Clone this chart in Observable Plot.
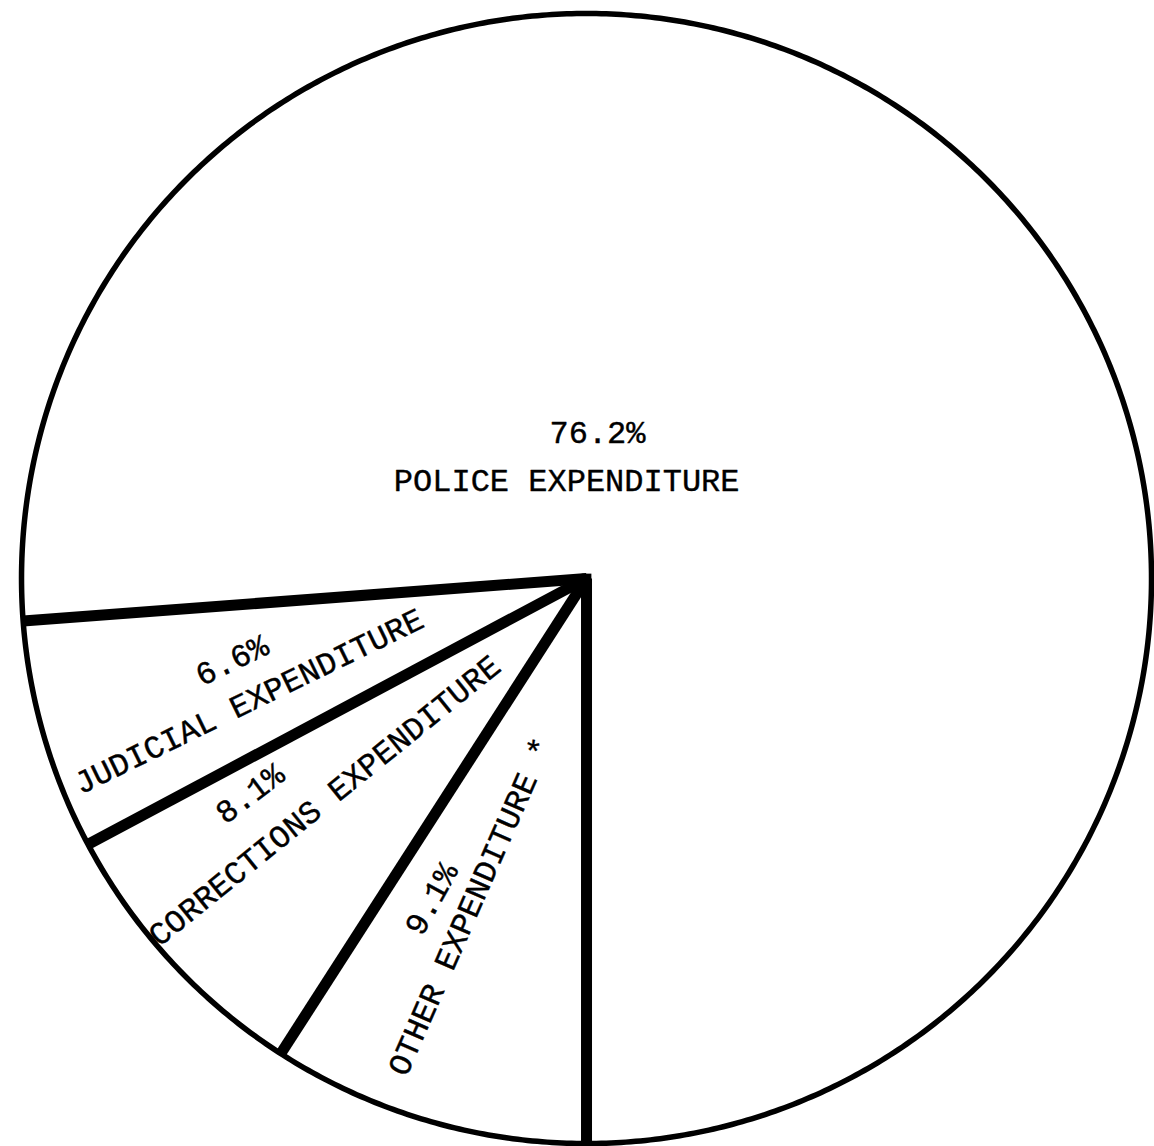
<!DOCTYPE html>
<html><head><meta charset="utf-8">
<script src="https://cdn.jsdelivr.net/npm/d3@7"></script>
<script src="https://cdn.jsdelivr.net/npm/@observablehq/plot@0.6"></script>
<style>body{margin:0;background:#fff}</style>
</head><body><div id="chart"></div>
<script>
// Slices listed clockwise, starting at the 6 o'clock radius
const categories = ["OTHER EXPENDITURE *", "CORRECTIONS EXPENDITURE", "JUDICIAL EXPENDITURE", "POLICE EXPENDITURE"];
const shares = [9.1, 8.1, 6.6, 76.2];
const shareLabels = ["9.1%", "8.1%", "6.6%", "76.2%"];

// Label placement (polar: angle in degrees clockwise from top, radius as fraction, text rotation)
const pctPlace = [
  {a: 205.8, r: 0.630, rot: -61},
  {a: 237.4, r: 0.707, rot: -37},
  {a: 257, r: 0.644, rot: -26},
  {a: 4.3, r: 0.259, rot: 0}
];
const namePlace = [
  {a: 199.5, r: 0.616, rot: -66.3},
  {a: 229.7, r: 0.608, rot: -39},
  {a: 250, r: 0.636, rot: -26},
  {a: 348.5, r: 0.176, rot: 0}
];

const startAngle = 180;
const total = d3.sum(shares);
let cum = 0;
const slices = categories.map((c, i) => {
  const a0 = startAngle + 360 * cum / total;
  cum += shares[i];
  const a1 = startAngle + 360 * cum / total;
  return {category: c, share: shares[i], label: shareLabels[i], a0, a1};
});
const rad = d => d * Math.PI / 180;
const polar = (a, r) => ({x: r * Math.sin(rad(a)), y: r * Math.cos(rad(a))});

const boundaries = slices.map(s => ({...s, ...polar(s.a0, 1)}));
const circle = d3.range(0, 721).map(i => polar(i / 2, 1));
const pctText = slices.map((s, i) => ({text: s.label, rot: pctPlace[i].rot, ...polar(pctPlace[i].a, pctPlace[i].r)}));
const nameText = slices.map((s, i) => ({text: s.category, rot: namePlace[i].rot, ...polar(namePlace[i].a, namePlace[i].r)}));

const chart = Plot.plot({
  width: 1154,
  height: 1146,
  margin: 0,
  x: {domain: [-1.0372, 1.0053], axis: null},
  y: {domain: [-1.00531, 1.0230], axis: null},
  style: {background: "#fff", fontFamily: "'Courier New', 'Liberation Mono', monospace"},
  marks: [
    Plot.line(circle, {x: "x", y: "y", stroke: "#000", strokeWidth: 5.5}),
    Plot.link(boundaries, {x1: () => 0, y1: () => 0, x2: "x", y2: "y", stroke: "#000", strokeWidth: 11, strokeLinecap: "butt"}),
    Plot.dot([{x: 0, y: 0}], {x: "x", y: "y", r: 5.5, fill: "#000", symbol: "square"}),
    Plot.text(pctText, {x: "x", y: "y", text: "text", rotate: "rot", fontSize: 32, fill: "#000", stroke: "#000", strokeWidth: 0.4, textAnchor: "middle", lineAnchor: "middle"}),
    Plot.text(nameText, {x: "x", y: "y", text: "text", rotate: "rot", fontSize: 32, fill: "#000", stroke: "#000", strokeWidth: 0.4, textAnchor: "middle", lineAnchor: "middle"})
  ]
});
document.getElementById("chart").appendChild(chart);
</script>
</body></html>
